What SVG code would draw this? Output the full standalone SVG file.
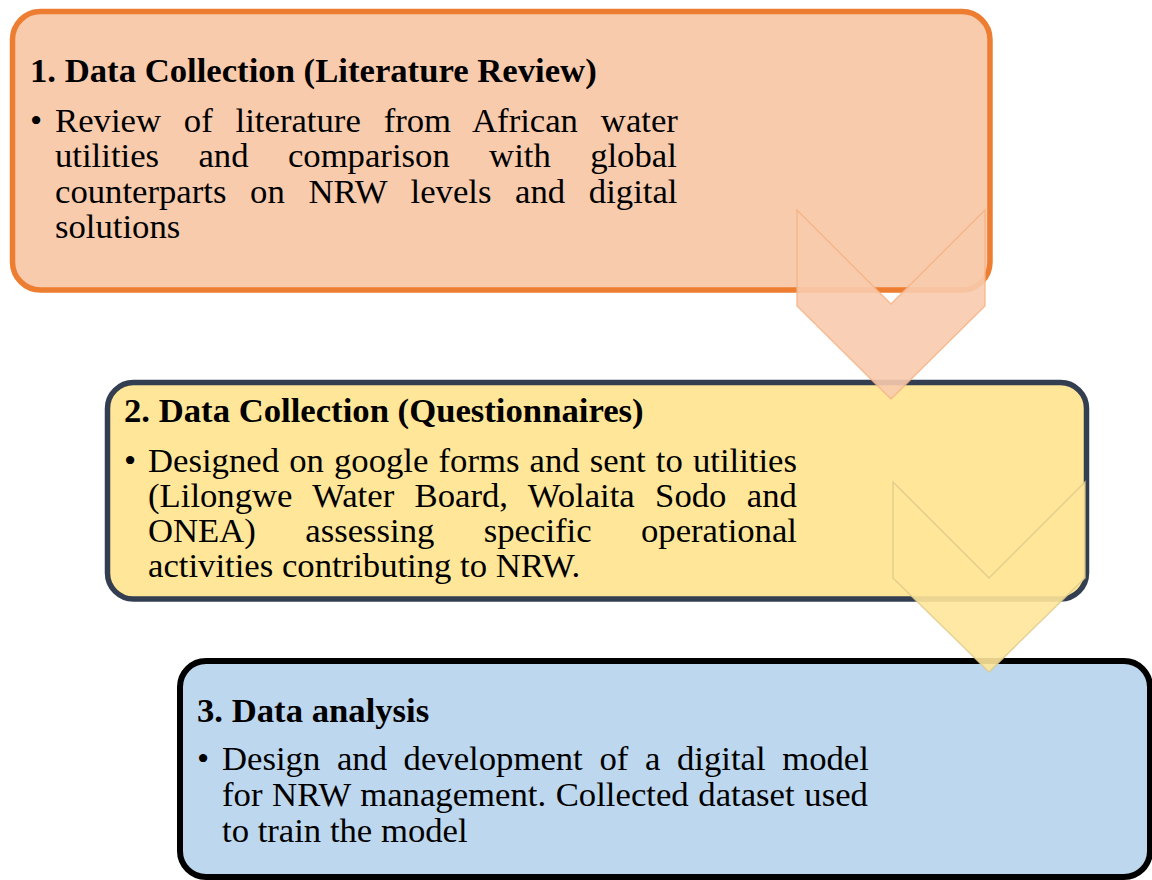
<svg xmlns="http://www.w3.org/2000/svg" width="1152" height="880" viewBox="0 0 1152 880">
  <style>
    .title { font-family: "Liberation Serif", "Times New Roman", serif; font-size: 34.7px; font-weight: bold; fill: #000; }
    .body { font-family: "Liberation Serif", "Times New Roman", serif; font-size: 34.7px; fill: #000; }
    .box1 { fill: #F8CBAD; stroke: #ED7D31; stroke-width: 5.5; }
    .box2 { fill: #FFE699; stroke: #333F50; stroke-width: 5.5; }
    .box3 { fill: #BDD7EE; stroke: #000000; stroke-width: 6; }
    .chev1 { fill: #F8CBAD; fill-opacity: 0.9; stroke: #F4B183; stroke-opacity: 0.8; stroke-width: 1.5; }
    .chev2 { fill: #FFE699; fill-opacity: 0.9; stroke: #DCC98A; stroke-opacity: 0.8; stroke-width: 1.5; }
  </style>

  <rect width="1152" height="880" fill="#FFFFFF"/>

  <!-- Step 1 -->
  <g id="step1">
    <rect class="box1" x="12.5" y="11.5" width="977.5" height="278.5" rx="28" ry="28"/>
    <text class="title" x="30" y="82">1. Data Collection (Literature Review)</text>
    <text class="body" x="30" y="132">•</text>
    <text class="body" x="55" y="132" word-spacing="14.2">Review of literature from African water</text>
    <text class="body" x="55" y="167" word-spacing="30.7">utilities and comparison with global</text>
    <text class="body" x="55" y="202.5" word-spacing="15.0">counterparts on NRW levels and digital</text>
    <text class="body" x="55" y="238">solutions</text>
  </g>

  <!-- Step 2 -->
  <g id="step2">
    <rect class="box2" x="107.5" y="382.5" width="979" height="216.5" rx="26" ry="26"/>
    <text class="title" x="124" y="422">2. Data Collection (Questionnaires)</text>
    <text class="body" x="124" y="472">•</text>
    <text class="body" x="148" y="472" word-spacing="1.46">Designed on google forms and sent to utilities</text>
    <text class="body" x="148" y="507" word-spacing="11.7">(Lilongwe Water Board, Wolaita Sodo and</text>
    <text class="body" x="148" y="542" word-spacing="40.7">ONEA) assessing specific operational</text>
    <text class="body" x="148" y="577">activities contributing to NRW.</text>
  </g>

  <!-- Step 3 -->
  <g id="step3">
    <rect class="box3" x="180" y="661" width="970" height="216" rx="26" ry="26"/>
    <text class="title" x="197" y="722">3. Data analysis</text>
    <text class="body" x="197" y="770">•</text>
    <text class="body" x="222" y="770" word-spacing="7.95">Design and development of a digital model</text>
    <text class="body" x="222" y="806" word-spacing="1.0">for NRW management. Collected dataset used</text>
    <text class="body" x="222" y="842">to train the model</text>
  </g>

  <!-- Chevron connectors between steps -->
  <g id="connectors">
    <polygon class="chev1" points="797,210 891,304 985,210 985,306 891,399 797,306"/>
    <polygon class="chev2" points="893,482 989,578 1085,482 1085,578 989,672 893,578"/>
  </g>
</svg>
